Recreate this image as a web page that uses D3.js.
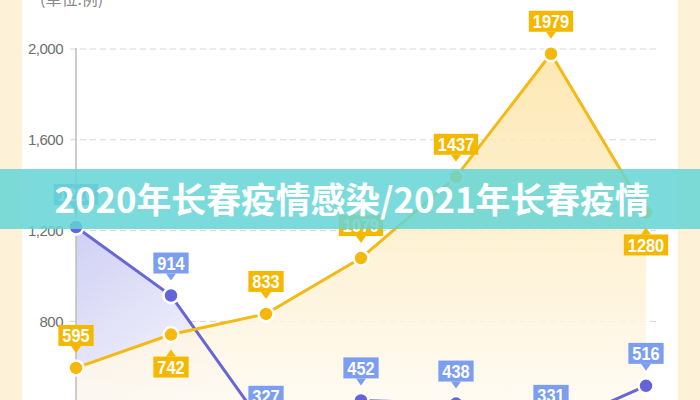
<!DOCTYPE html>
<html>
<head>
<meta charset="utf-8">
<script src="https://d3js.org/d3.v7.min.js"></script>
<style>
  body { margin: 0; background: #fff; }
  svg { display: block; }
</style>
</head>
<body>
<svg id="chart" width="700" height="400"></svg>
<script>
// data
const months = ["1月", "2月", "3月", "4月", "5月", "6月", "7月"];
const cases2020 = [1216, 914, 327, 452, 438, 331, 516];
const cases2021 = [595, 742, 833, 1079, 1437, 1979, 1280];
const below2021 = [false, true, false, false, false, false, true];
const yTicks = [800, 1200, 1600, 2000];
const unitText = "(单位:例)";
const bannerText = "2020年长春疫情感染/2021年长春疫情";

const labelFont = "'Liberation Sans', Arial, sans-serif";

var svg = d3.select("#chart");

// background panels
svg.append("rect").attr("x", 0).attr("y", 0).attr("width", 700).attr("height", 400).attr("fill", "#fdf2d7");
svg.append("rect").attr("x", 22).attr("y", 0).attr("width", 656).attr("height", 400).attr("fill", "#ffffff");

const x = d3.scalePoint().domain(months).range([76, 646]);
const y = d3.scaleLinear().domain([0, 2000]).range([503, 49]);

// gradients
const defs = svg.append("defs");
const gy = defs.append("linearGradient").attr("id", "gYellow")
  .attr("gradientUnits", "userSpaceOnUse")
  .attr("x1", 0).attr("y1", y(2000)).attr("x2", 0).attr("y2", 400);
gy.append("stop").attr("offset", "0%").attr("stop-color", "#fde3a4");
gy.append("stop").attr("offset", "100%").attr("stop-color", "#fffaf0");

const gb = defs.append("linearGradient").attr("id", "gBlue")
  .attr("gradientUnits", "userSpaceOnUse")
  .attr("x1", 76).attr("y1", y(1216)).attr("x2", 200).attr("y2", 400);
gb.append("stop").attr("offset", "0%").attr("stop-color", "#cfcff4");
gb.append("stop").attr("offset", "100%").attr("stop-color", "#f7f7fd");

// unit label
svg.append("text").attr("x", 40).attr("y", 5)
  .attr("font-family", "'Noto Sans CJK SC', sans-serif").attr("font-size", 16)
  .attr("fill", "#888").text(unitText);

// grid lines and tick labels
svg.append("g").selectAll("line").data(yTicks).join("line")
  .attr("x1", 70).attr("x2", 656)
  .attr("y1", d => y(d)).attr("y2", d => y(d))
  .attr("stroke", "#d6d6d6").attr("stroke-width", 1)
  .attr("stroke-dasharray", "6,4");

svg.append("g").selectAll("text").data(yTicks).join("text")
  .attr("x", 63).attr("y", d => y(d)).attr("dy", "0.35em")
  .attr("text-anchor", "end")
  .attr("font-family", "'Liberation Sans', Arial, sans-serif").attr("font-size", 15)
  .attr("letter-spacing", -0.5)
  .attr("fill", "#6e6e6e")
  .text(d => d3.format(",")(d));

// areas
const area = d3.area().x((d, i) => x(months[i])).y0(y(0)).y1(d => y(d));
svg.append("path").datum(cases2020).attr("d", area).attr("fill", "url(#gBlue)");
svg.append("path").datum(cases2021).attr("d", area).attr("fill", "url(#gYellow)").attr("opacity", 0.85);

// y axis line
svg.append("line").attr("x1", 76).attr("x2", 76).attr("y1", 48).attr("y2", 400)
  .attr("stroke", "#bdbdbd").attr("stroke-width", 1.5);

// lines
const line = d3.line().x((d, i) => x(months[i])).y(d => y(d));
svg.append("path").datum(cases2020).attr("d", line)
  .attr("fill", "none").attr("stroke", "#6767d6").attr("stroke-width", 3);
svg.append("path").datum(cases2021).attr("d", line)
  .attr("fill", "none").attr("stroke", "#f4b916").attr("stroke-width", 3);

// points
function points(data, color) {
  svg.append("g").selectAll("circle").data(data).join("circle")
    .attr("cx", (d, i) => x(months[i])).attr("cy", d => y(d))
    .attr("r", 7.5).attr("fill", color)
    .attr("stroke", "#fff").attr("stroke-width", 2.5);
}
points(cases2020, "#6464da");
points(cases2021, "#f6b80c");

// value tags
function tags(data, color, belowFlags) {
  data.forEach((v, i) => {
    const px = x(months[i]), py = y(v);
    const below = belowFlags ? belowFlags[i] : false;
    const g = svg.append("g");
    const t = g.append("text")
      .attr("x", px).attr("text-anchor", "middle")
      .attr("font-family", labelFont).attr("font-weight", "bold").attr("font-size", 19)
      .attr("fill", "#fff").text(v);
    // squeeze glyphs a bit to look condensed
    const tw = t.node().getComputedTextLength() * 0.86;
    t.attr("textLength", tw).attr("lengthAdjust", "spacingAndGlyphs");
    const w = tw + 8;
    const h = 21;
    const top = below ? py + 22 : py - 22 - h;
    t.attr("y", top + h / 2).attr("dy", "0.36em");
    const tipY = below ? py + 15 : py - 15;
    const baseY = below ? top : top + h;
    g.insert("path", "text")
      .attr("d", `M${px - 5},${baseY} L${px},${tipY} L${px + 5},${baseY} Z`)
      .attr("fill", color);
    g.insert("rect", "text")
      .attr("x", px - w / 2).attr("y", top).attr("width", w).attr("height", h)
      .attr("fill", color);
  });
}
tags(cases2020, "#7c9ef1", null);
tags(cases2021, "#f5b800", below2021);

// banner overlay
svg.append("rect").attr("x", 0).attr("y", 169).attr("width", 700).attr("height", 60)
  .attr("fill", "rgb(100,213,214)").attr("opacity", 0.85);
svg.append("text").attr("x", 352).attr("y", 213)
  .attr("text-anchor", "middle")
  .attr("font-family", "'Noto Sans CJK SC', 'Noto Sans', sans-serif")
  .attr("font-weight", "bold").attr("font-size", 35)
  .attr("textLength", 595).attr("lengthAdjust", "spacingAndGlyphs")
  .attr("fill", "#fff").text(bannerText);
</script>
</body>
</html>
